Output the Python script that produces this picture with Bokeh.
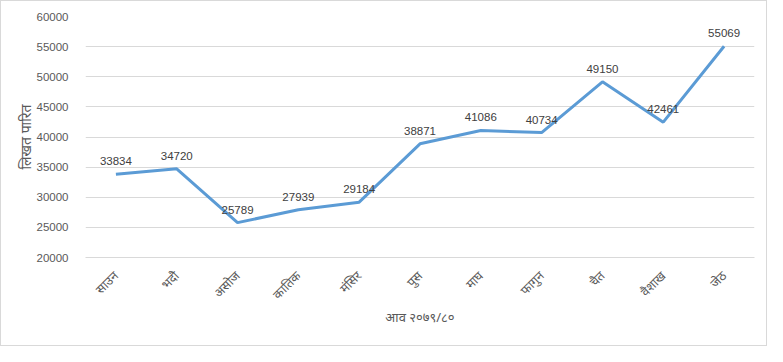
import math
from bokeh.plotting import figure
from bokeh.models import ColumnDataSource, FactorRange, Range1d, FixedTicker, LabelSet
from bokeh.core.properties import value
from bokeh.embed import file_html
from bokeh.resources import INLINE

months = ["साउन", "भदौ", "असोज", "कातिक", "मंसिर", "पुस", "माघ", "फागुन", "चैत", "वैशाख", "जेठ"]
values = [33834, 34720, 25789, 27939, 29184, 38871, 41086, 40734, 49150, 42461, 55069]
y_ticks = [20000, 25000, 30000, 35000, 40000, 45000, 50000, 55000, 60000]
x_title = "आव २०७९/८०"
y_title = "लिखत पारित"

src = ColumnDataSource(dict(m=months, v=values, lbl=[str(v) for v in values]))

p = figure(width=767, height=346, output_backend="svg", toolbar_location=None,
           x_range=FactorRange(*months), y_range=Range1d(20000, 60000),
           min_border_left=84, min_border_right=14, min_border_top=15, min_border_bottom=90)
p.styles = {"border": "1px solid #D9D9D9", "box-sizing": "border-box"}
p.outline_line_color = None
p.background_fill_color = "white"
p.border_fill_color = "white"

p.line("m", "v", source=src, line_color="#5B9BD5", line_width=3)

labels = LabelSet(x="m", y="v", text="lbl", source=src, text_align="center",
                  text_baseline="bottom", y_offset=9, text_font=value("Liberation Sans"),
                  text_font_size="11.5px", text_color="#404040")
p.add_layout(labels)

p.yaxis.ticker = FixedTicker(ticks=y_ticks)
p.ygrid.grid_line_color = "#D9D9D9"
p.xgrid.grid_line_color = None
p.yaxis.axis_line_color = None
p.yaxis.major_tick_line_color = None
p.yaxis.minor_tick_line_color = None
p.yaxis.major_label_text_font = "Liberation Sans"
p.yaxis.major_label_text_font_size = "11.5px"
p.yaxis.major_label_text_color = "#595959"
p.yaxis.major_label_standoff = 11
p.yaxis.axis_label = y_title
p.yaxis.axis_label_text_font = "Noto Sans"
p.yaxis.axis_label_text_font_style = "normal"
p.yaxis.axis_label_text_font_size = "14px"
p.yaxis.axis_label_text_color = "#595959"
p.yaxis.axis_label_standoff = -1

p.xaxis.axis_line_color = "#D9D9D9"
p.xaxis.major_tick_line_color = None
p.xaxis.minor_tick_line_color = None
p.xaxis.major_label_orientation = math.pi / 4
p.xaxis.major_label_text_font = "Noto Sans"
p.xaxis.major_label_text_font_size = "12.5px"
p.xaxis.major_label_text_color = "#595959"
p.xaxis.major_label_standoff = 10
p.xaxis.axis_label = x_title
p.xaxis.axis_label_text_font = "Noto Sans"
p.xaxis.axis_label_text_font_style = "normal"
p.xaxis.axis_label_text_font_size = "13px"
p.xaxis.axis_label_text_color = "#595959"
p.xaxis.axis_label_standoff = -4

open("out.html", "w").write(file_html(p, INLINE))
